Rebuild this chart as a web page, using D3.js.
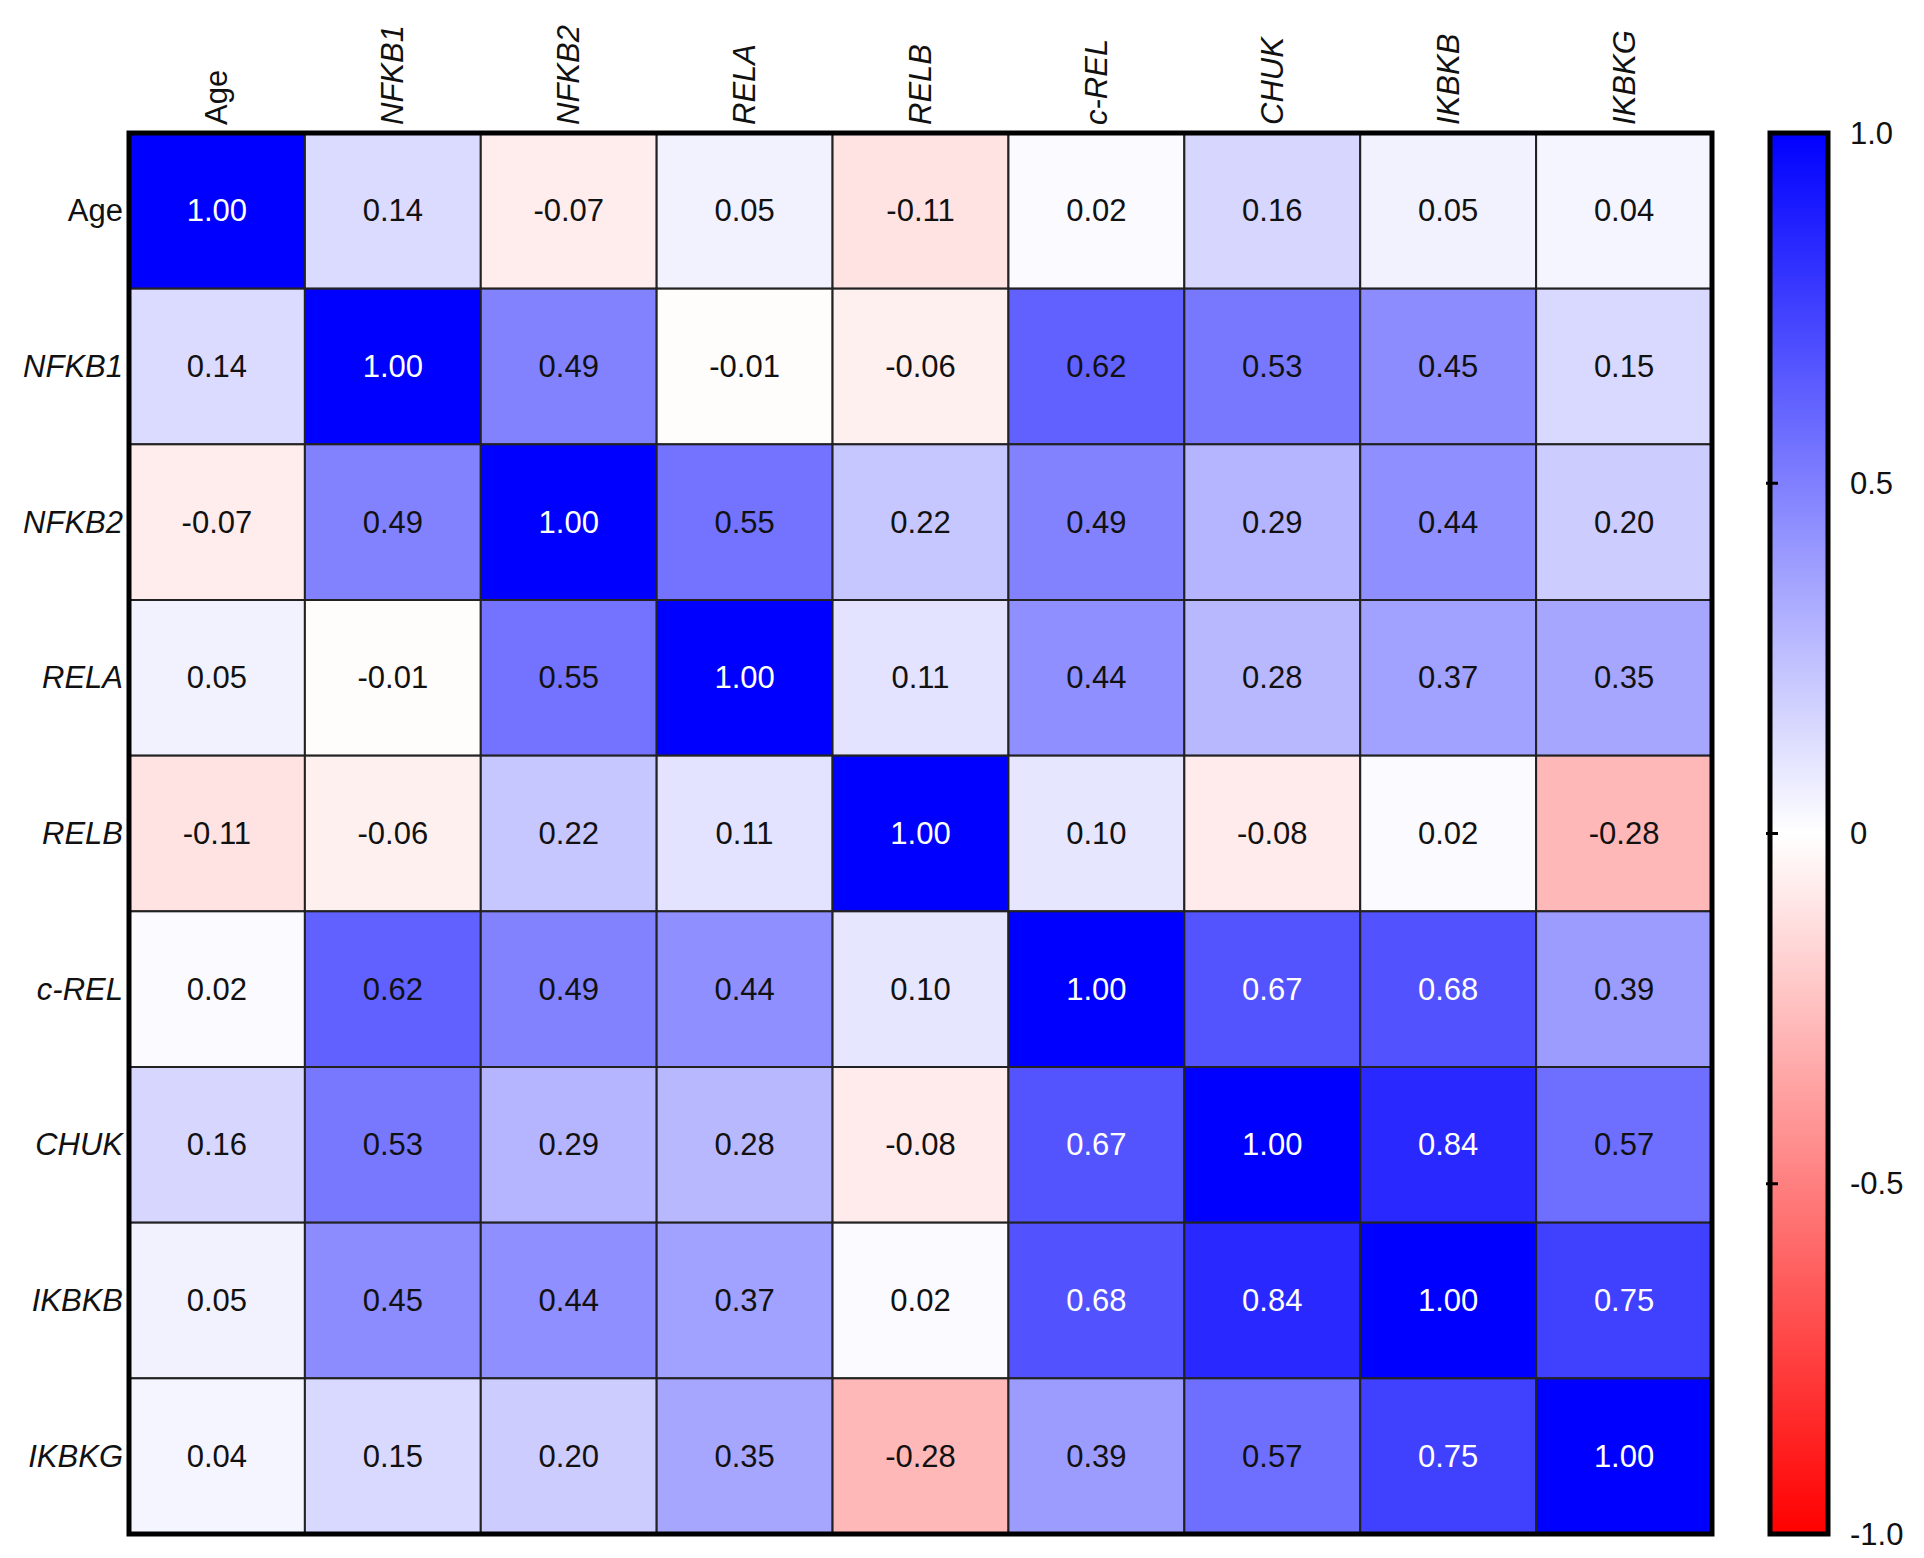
<!DOCTYPE html>
<html><head><meta charset="utf-8">
<script src="https://cdn.jsdelivr.net/npm/d3@7"></script>
<style>body{margin:0;background:#fff}</style></head>
<body><svg id="c" width="1924" height="1558"></svg>
<script>
const labels=["Age","NFKB1","NFKB2","RELA","RELB","c-REL","CHUK","IKBKB","IKBKG"];
const matrix=[
[1.00,0.14,-0.07,0.05,-0.11,0.02,0.16,0.05,0.04],
[0.14,1.00,0.49,-0.01,-0.06,0.62,0.53,0.45,0.15],
[-0.07,0.49,1.00,0.55,0.22,0.49,0.29,0.44,0.20],
[0.05,-0.01,0.55,1.00,0.11,0.44,0.28,0.37,0.35],
[-0.11,-0.06,0.22,0.11,1.00,0.10,-0.08,0.02,-0.28],
[0.02,0.62,0.49,0.44,0.10,1.00,0.67,0.68,0.39],
[0.16,0.53,0.29,0.28,-0.08,0.67,1.00,0.84,0.57],
[0.05,0.45,0.44,0.37,0.02,0.68,0.84,1.00,0.75],
[0.04,0.15,0.20,0.35,-0.28,0.39,0.57,0.75,1.00]];
const cbTicks=[1,0.5,0,-0.5,-1];
const cbTickLabels=["1.0","0.5","0","-0.5","-1.0"];

const svg=d3.select("#c");
const L=129,R=1712,T=133,B=1534;
const x=d3.scaleBand().domain(labels).range([L,R]);
const y=d3.scaleBand().domain(labels).range([T,B]);
const color=d3.scaleLinear().domain([-1,0,1]).range(["#ff0000","#ffffff","#0000ff"]);
const font="'Liberation Sans',Arial,sans-serif";
const cells=[];
matrix.forEach((row,i)=>row.forEach((v,j)=>cells.push({r:labels[i],c:labels[j],v})));
svg.selectAll("rect.cell").data(cells).enter().append("rect")
 .attr("x",d=>x(d.c)).attr("y",d=>y(d.r)).attr("width",x.bandwidth()).attr("height",y.bandwidth())
 .attr("fill",d=>color(d.v)).attr("stroke","#222").attr("stroke-width",2);
svg.selectAll("text.val").data(cells).enter().append("text")
 .attr("x",d=>x(d.c)+x.bandwidth()/2).attr("y",d=>y(d.r)+y.bandwidth()/2)
 .attr("text-anchor","middle").attr("dominant-baseline","central")
 .attr("font-family",font).attr("font-size",31)
 .attr("fill",d=>d.v>0.65?"#fff":"#111").text(d=>d.v.toFixed(2));
svg.append("rect").attr("x",L).attr("y",T).attr("width",R-L).attr("height",B-T)
 .attr("fill","none").attr("stroke","#000").attr("stroke-width",5);
// row labels
svg.selectAll("text.rl").data(labels).enter().append("text")
 .attr("x",L-6).attr("y",d=>y(d)+y.bandwidth()/2).attr("text-anchor","end").attr("dominant-baseline","central")
 .attr("font-family",font).attr("font-size",31).attr("font-style",d=>d==="Age"?"normal":"italic").attr("fill","#111").text(d=>d);
// column labels
svg.selectAll("text.cl").data(labels).enter().append("text")
 .attr("transform",d=>`translate(${x(d)+x.bandwidth()/2},${T-8}) rotate(-90)`)
 .attr("text-anchor","start").attr("dominant-baseline","central")
 .attr("font-family",font).attr("font-size",31).attr("font-style",d=>d==="Age"?"normal":"italic").attr("fill","#111").text(d=>d);
// colorbar
const cbX=1770,cbW=58;
const cy=d3.scaleLinear().domain([-1,1]).range([B,T]);
const defs=svg.append("defs");
const g=defs.append("linearGradient").attr("id","grad").attr("x1",0).attr("x2",0).attr("y1",1).attr("y2",0);
[-1,0,1].forEach(v=>g.append("stop").attr("offset",(v+1)/2).attr("stop-color",color(v)));
svg.append("rect").attr("x",cbX).attr("y",T).attr("width",cbW).attr("height",B-T)
 .attr("fill","url(#grad)").attr("stroke","#000").attr("stroke-width",5);
svg.selectAll("line.cbt").data(cbTicks.slice(1,4)).enter().append("line")
 .attr("x1",cbX-4).attr("x2",cbX+8).attr("y1",d=>cy(d)).attr("y2",d=>cy(d)).attr("stroke","#000").attr("stroke-width",3);
svg.selectAll("text.cbl").data(cbTicks).enter().append("text")
 .attr("x",1850).attr("y",d=>cy(d)).attr("dominant-baseline","central")
 .attr("font-family",font).attr("font-size",31).attr("fill","#111").text((d,i)=>cbTickLabels[i]);
</script></body></html>
